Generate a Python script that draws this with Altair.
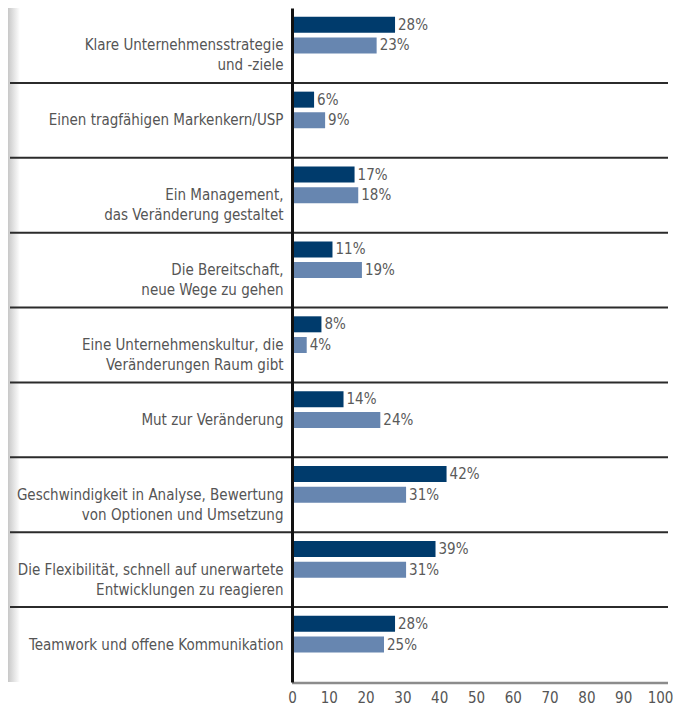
import altair as alt
import pandas as pd

categories = [
    "Klare Unternehmensstrategie|und -ziele",
    "Einen tragfähigen Markenkern/USP",
    "Ein Management,|das Veränderung gestaltet",
    "Die Bereitschaft,|neue Wege zu gehen",
    "Eine Unternehmenskultur, die|Veränderungen Raum gibt",
    "Mut zur Veränderung",
    "Geschwindigkeit in Analyse, Bewertung|von Optionen und Umsetzung",
    "Die Flexibilität, schnell auf unerwartete|Entwicklungen zu reagieren",
    "Teamwork und offene Kommunikation",
]
series_names = ["Serie 1", "Serie 2"]
series_dark = [28, 6, 17, 11, 8, 14, 42, 39, 28]
series_light = [23, 9, 18, 19, 4, 24, 31, 31, 25]
x_ticks = [0, 10, 20, 30, 40, 50, 60, 70, 80, 90, 100]

FONT = "DejaVu Sans Condensed, sans-serif"
W = 368
H = 674

rows = []
for c, a, b in zip(categories, series_dark, series_light):
    rows.append({"cat": c, "serie": series_names[0], "value": a})
    rows.append({"cat": c, "serie": series_names[1], "value": b})
df = pd.DataFrame(rows)
df["label"] = df["value"].astype(str) + "%"

ysc = alt.Scale(paddingInner=0, paddingOuter=0)
yoff_sc = alt.Scale(domain=series_names + ["_"], paddingInner=0.24, paddingOuter=0.43)
xsc = alt.Scale(domain=[0, 100], nice=False)

y_axis = alt.Axis(labelExpr="split(datum.label, '|')", labelFont=FONT,
                  labelFontSize=15, labelColor="#555555", labelLineHeight=20,
                  labelPadding=9, ticks=False, domainColor="#111111", grid=False,
                  domainWidth=3, minExtent=284, maxExtent=284, labelLimit=300,
                  zindex=1)
x_axis = alt.Axis(values=x_ticks, labelFont=FONT, labelFontSize=15,
                  labelColor="#555555", ticks=False, domain=False, labelFlush=False,
                  grid=False, labelPadding=8, zindex=1)

base = alt.Chart(df)

bars = base.mark_bar(size=16).encode(
    y=alt.Y("cat:N", sort=categories, scale=ysc, title=None, axis=y_axis),
    yOffset=alt.YOffset("serie:N", scale=yoff_sc),
    x=alt.X("value:Q", scale=xsc, title=None, axis=x_axis),
    color=alt.Color("serie:N", scale=alt.Scale(domain=series_names,
                                               range=["#003b6c", "#6786b0"]), legend=None),
)

texts = base.mark_text(align="left", baseline="middle", dx=3, font=FONT,
                       fontSize=15, color="#5a5a5a").encode(
    y=alt.Y("cat:N", sort=categories, scale=ysc, title=None, axis=y_axis),
    yOffset=alt.YOffset("serie:N", scale=yoff_sc),
    x=alt.X("value:Q", scale=xsc, title=None, axis=x_axis),
    text="label:N",
)

sep_df = pd.DataFrame({"cat": categories[1:]})
seps = alt.Chart(sep_df).mark_rule(color="#2b2b2b", strokeWidth=2).encode(
    y=alt.Y("cat:N", sort=categories, scale=ysc, bandPosition=0, title=None, axis=y_axis),
    x=alt.value(-282),
    x2=alt.value(W + 8),
)

bottom = alt.Chart(pd.DataFrame({"k": [0]})).mark_rule(color="#8c8c8c", strokeWidth=2.5).encode(
    y=alt.value(H + 1),
    x=alt.value(0),
    x2=alt.value(W + 8),
)

marble = alt.Chart(pd.DataFrame({"k": [0]})).mark_rect(
    color=alt.Gradient(gradient="linear",
                       stops=[alt.GradientStop(color="#c8c8c8", offset=0),
                              alt.GradientStop(color="#ffffff", offset=1)],
                       x1=0, x2=1, y1=0, y2=0)
).encode(
    x=alt.value(-284), x2=alt.value(-272),
    y=alt.value(0), y2=alt.value(H),
)

chart = alt.layer(marble, seps, bottom, bars, texts).properties(
    width=W, height=H, background="white",
    padding={"left": 0, "top": 0, "right": 0, "bottom": 0}
).configure_view(strokeWidth=0, stroke="transparent")

chart.save("out.html", embed_options={"renderer": "svg", "actions": False})
